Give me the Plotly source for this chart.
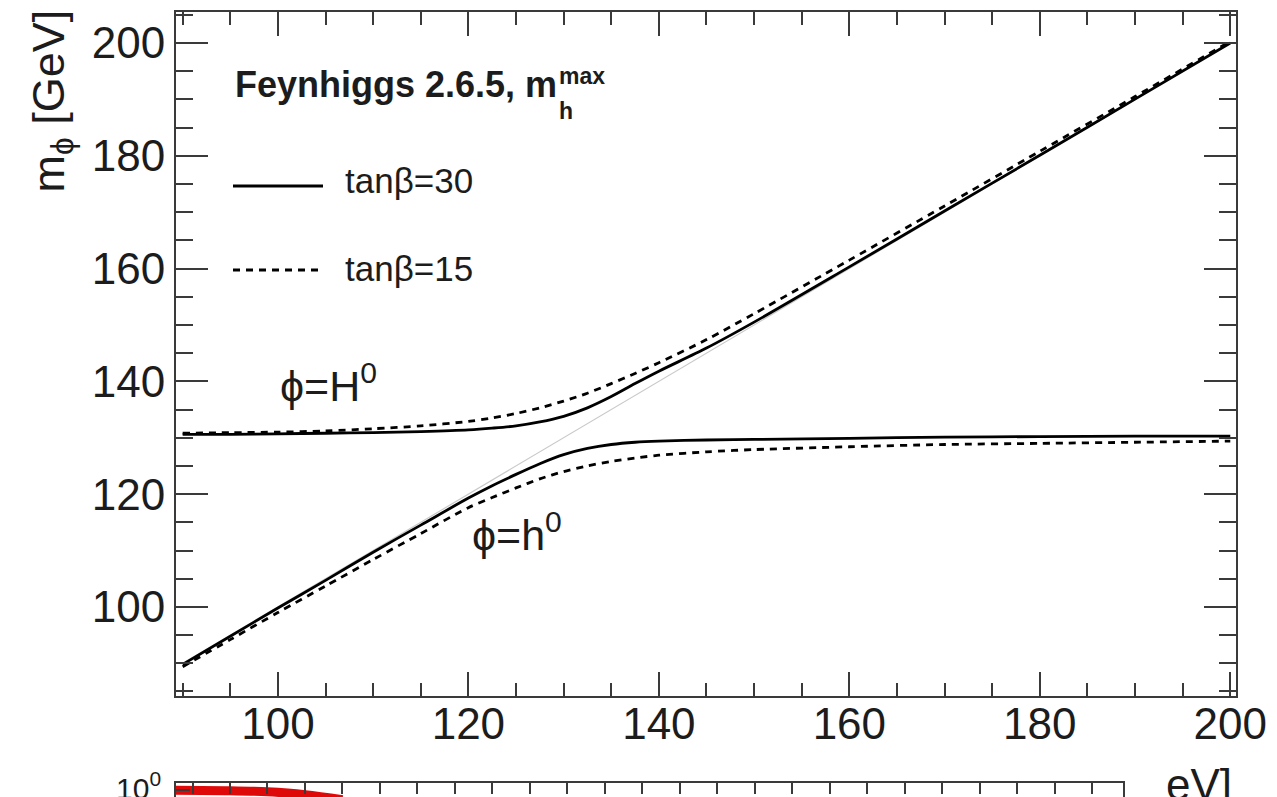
import plotly.graph_objects as go

# m_A grid [GeV]
m_A = [90, 95, 100, 105, 110, 115, 120, 122.5, 125, 127.5, 130, 132.5, 135,
       137.5, 140, 145, 150, 160, 170, 180, 190, 200]

# tan(beta) = 30
mH_tb30 = [130.6, 130.6, 130.7, 130.8, 130.9, 131.1, 131.4, 131.7, 132.1, 132.8,
           133.8, 135.3, 137.3, 139.6, 141.8, 145.9, 150.5, 160.3, 170.2, 180.1,
           190.05, 200.0]
mh_tb30 = [89.8, 94.8, 99.8, 104.7, 109.7, 114.5, 119.3, 121.5, 123.5, 125.4,
           127.0, 128.1, 128.8, 129.2, 129.4, 129.6, 129.7, 129.9, 130.1, 130.2,
           130.3, 130.3]

# tan(beta) = 15
mH_tb15 = [130.8, 130.9, 131.0, 131.2, 131.6, 132.1, 132.9, 133.5, 134.3, 135.3,
           136.5, 137.9, 139.6, 141.4, 143.3, 147.4, 152.0, 161.5, 171.1, 180.8,
           190.5, 200.3]
mh_tb15 = [89.4, 94.2, 99.0, 103.7, 108.4, 113.0, 117.6, 119.4, 121.1, 122.7,
           124.0, 125.0, 125.8, 126.4, 126.9, 127.5, 127.9, 128.4, 128.8, 129.0,
           129.2, 129.4]

# m_phi = m_A reference diagonal
diag = [90, 200]

# lower panel (branching-ratio style curve, log scale)
br_x = [87.8, 95, 100, 105, 110]
br_y = [0.998, 0.99, 0.972, 0.93, 0.86]

W, H = 1277, 797
ML, MR, MT, MB = 176, 41, 12, 0
PW, PH = W - ML - MR, H - MT - MB


def px(x):
    return (x - ML) / PW


def py(y):
    return (H - MB - y) / PH


FONT = "Liberation Sans, Arial, Helvetica, sans-serif"
INK = "#1c1c1c"
AX = "#3a3a3a"

fig = go.Figure()

fig.add_trace(go.Scatter(x=diag, y=diag, mode="lines",
                         line=dict(color="#c9c9c9", width=1.2),
                         hoverinfo="skip", showlegend=False))

for ys, dash in [(mH_tb15, "7px,6px"), (mh_tb15, "7px,6px"),
                 (mH_tb30, "solid"), (mh_tb30, "solid")]:
    fig.add_trace(go.Scatter(x=m_A, y=ys, mode="lines",
                             line=dict(color="black", width=2.8, dash=dash,
                                       shape="spline", smoothing=0.8),
                             showlegend=False))

fig.add_trace(go.Scatter(x=br_x, y=br_y, mode="lines", xaxis="x2", yaxis="y2",
                         line=dict(color="rgb(222,10,10)", width=9,
                                   shape="spline"),
                         showlegend=False))

main_bottom = py(696)

axis_common = dict(showgrid=False, zeroline=False, showline=True,
                   linecolor=AX, linewidth=2, mirror="ticks",
                   ticks="inside", tickcolor=AX, tickwidth=2,
                   tickfont=dict(family=FONT, size=44, color=INK))

fig.update_layout(
    width=W, height=H,
    margin=dict(l=ML, r=MR, t=MT, b=MB, pad=0),
    paper_bgcolor="white", plot_bgcolor="white",
    xaxis=dict(domain=[0, 1], anchor="y", range=[89.3, 200.6],
               tick0=0, dtick=20, ticklen=24, ticklabelstandoff=-12,
               minor=dict(dtick=5, ticklen=13, tickwidth=2, tickcolor=AX,
                          ticks="inside"),
               **axis_common),
    yaxis=dict(domain=[main_bottom, 1], anchor="x", range=[84.2, 205.5],
               tick0=0, dtick=20, ticklen=32,
               minor=dict(dtick=5, ticklen=17, tickwidth=2, tickcolor=AX,
                          ticks="inside"),
               **axis_common),
    xaxis2=dict(domain=[0, px(1123)], anchor="y2", range=[87.8, 214.1],
                side="top", showticklabels=False, tick0=0, dtick=5,
                showgrid=False, zeroline=False, showline=True,
                linecolor=AX, linewidth=2, ticks="inside", ticklen=11,
                tickcolor=AX, tickwidth=2),
    yaxis2=dict(domain=[0, py(783)], anchor="x2", type="log",
                range=[-0.047, 0.047], showticklabels=False,
                showgrid=False, zeroline=False, showline=True, mirror=True,
                linecolor=AX, linewidth=2, ticks=""),
)

# legend block
fig.add_shape(type="line", xref="paper", yref="paper",
              x0=px(233), x1=px(323), y0=py(186), y1=py(186),
              line=dict(color="black", width=2.8))
fig.add_shape(type="line", xref="paper", yref="paper",
              x0=px(233), x1=px(323), y0=py(270), y1=py(270),
              line=dict(color="black", width=2.8, dash="7px,6px"))
# 10^0 tick on the lower panel's left edge
fig.add_shape(type="line", xref="paper", yref="paper",
              x0=px(176), x1=px(190), y0=py(790), y1=py(790),
              line=dict(color=AX, width=2))


def note(text, x, y, size, xanchor="left", yanchor="middle", bold=False,
         angle=0):
    fig.add_annotation(text=f"<b>{text}</b>" if bold else text,
                       xref="paper", yref="paper", x=px(x), y=py(y),
                       xanchor=xanchor, yanchor=yanchor, showarrow=False,
                       textangle=angle,
                       font=dict(family=FONT, size=size, color=INK))


note("Feynhiggs 2.6.5, m", 233, 85, 36, bold=True)
note("max", 557, 76, 23, bold=True)
note("h", 557, 111, 23, bold=True)
note("tanβ=30", 343, 181, 35)
note("tanβ=15", 343, 268, 35)
note("ϕ=H<sup>0</sup>", 278, 383, 43)
note("ϕ=h<sup>0</sup>", 470, 532, 43)
note("10<sup>0</sup>", 163, 786, 30, xanchor="right")
note("eV]", 1234, 784, 44, xanchor="right")
note("m<sub>ϕ</sub> [GeV]", 51, 8, 45, xanchor="center", yanchor="top",
     angle=-90)

fig.write_html("out.html")
